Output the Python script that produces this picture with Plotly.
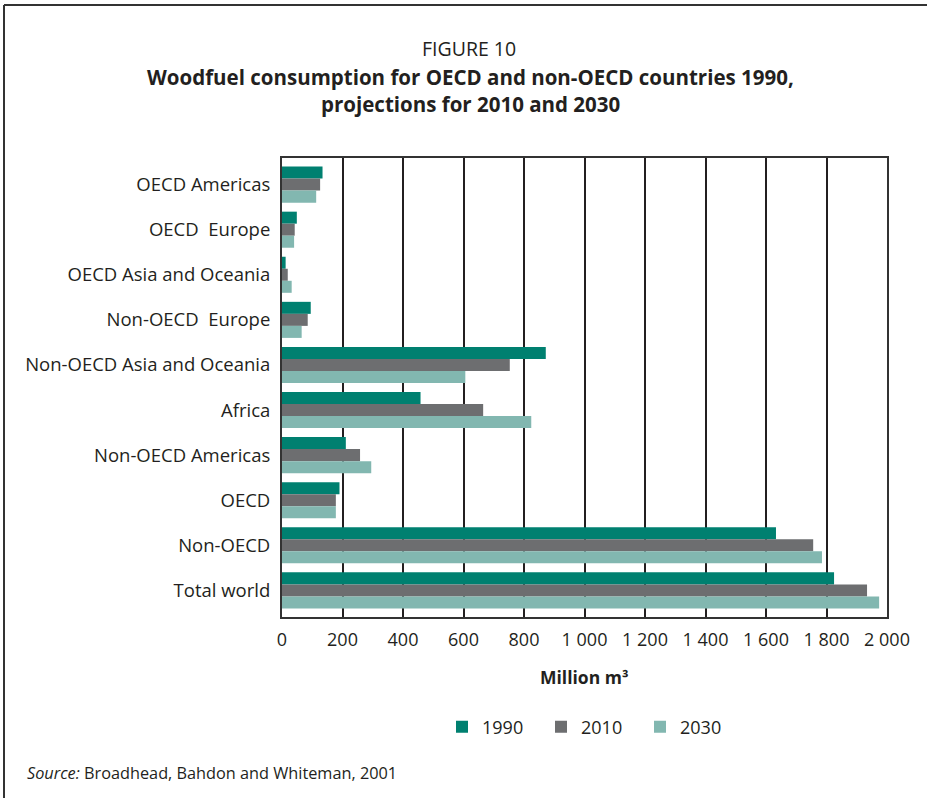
import plotly.graph_objects as go

categories = ["OECD Americas", "OECD\u00a0 Europe", "OECD Asia and Oceania", "Non-OECD\u00a0 Europe",
              "Non-OECD Asia and Oceania", "Africa", "Non-OECD Americas", "OECD", "Non-OECD", "Total world"]
v1990 = [134, 49, 12, 95, 872, 458, 211, 190, 1633, 1825]
v2010 = [126, 42, 19, 85, 753, 665, 258, 178, 1756, 1934]
v2030 = [113, 40, 32, 65, 606, 824, 295, 178, 1785, 1974]
series_names = ["1990", "2010", "2030"]
colors = ["#008070", "#6d6e70", "#82b7b0"]
tick_vals = [0, 200, 400, 600, 800, 1000, 1200, 1400, 1600, 1800, 2000]
tick_text = ["0", "200", "400", "600", "800", "1 000", "1 200", "1 400", "1 600", "1 800", "2 000"]

OFF = 0  # page body margin removed via post_script
W, H = 927, 798
L, T = 282 - OFF, 158 - OFF
R = W - (887 - OFF)
B = H - (617 - OFF)
pw, ph = W - L - R, H - T - B

FONT = "Open Sans, Noto Sans, sans-serif"
TXT = "#231f20"


def px_to_paper_x(px):
    return (px - OFF - L) / pw


def px_to_paper_y(py):
    return 1 - (py - OFF - T) / ph


fig = go.Figure()
for name, vals, c in zip(series_names, [v1990, v2010, v2030], colors):
    fig.add_trace(go.Bar(y=categories, x=vals, name=name, orientation="h",
                         marker=dict(color=c, line=dict(width=0))))

pad = 0.09
fig.update_layout(
    width=W, height=H,
    margin=dict(l=L, r=R, t=T, b=B),
    paper_bgcolor="white", plot_bgcolor="white",
    barmode="group", bargap=0.2, bargroupgap=0,
    font=dict(family=FONT, color=TXT, size=18),
    showlegend=True,
    legend=dict(orientation="h", x=px_to_paper_x(442), xanchor="left",
                y=px_to_paper_y(727), yanchor="middle",
                font=dict(size=18, color=TXT), entrywidth=54, entrywidthmode="pixels",
                traceorder="normal"),
    xaxis=dict(range=[0, 2000], tickvals=tick_vals, ticktext=tick_text,
               showgrid=True, gridcolor="#231f20", gridwidth=2,
               showline=True, linecolor="#333333", linewidth=2, mirror=True,
               zeroline=False, ticks="", ticklabelstandoff=5,
               tickfont=dict(size=18, color=TXT)),
    yaxis=dict(type="category", range=[len(categories) - 0.5 + pad, -0.5 - pad],
               showgrid=False, showline=True, linecolor="#333333", linewidth=2, mirror=True,
               ticks="", ticklabelstandoff=6, tickfont=dict(size=18.5, color=TXT)),
)

annotations = [
    dict(text="FIGURE 10", x=px_to_paper_x(469), y=px_to_paper_y(48), font=dict(size=19.5)),
    dict(text="<b>Woodfuel consumption for OECD and non-OECD countries 1990,</b>",
         x=px_to_paper_x(470), y=px_to_paper_y(77), font=dict(size=20.5)),
    dict(text="<b>projections for 2010 and 2030</b>",
         x=px_to_paper_x(470), y=px_to_paper_y(104), font=dict(size=20.5)),
    dict(text="<b>Million m³</b>", x=px_to_paper_x(584), y=px_to_paper_y(677), font=dict(size=17.5)),
]
for a in annotations:
    a.update(xref="paper", yref="paper", showarrow=False, xanchor="center", yanchor="middle")
    fig.add_annotation(**a)

fig.add_annotation(text="<i>Source:</i> Broadhead, Bahdon and Whiteman, 2001",
                   xref="paper", yref="paper", x=px_to_paper_x(25), y=px_to_paper_y(773),
                   xanchor="left", yanchor="middle", showarrow=False, font=dict(size=16.3))

# outer frame (top and left edges visible in the reference)
fig.add_shape(type="line", xref="paper", yref="paper",
              x0=px_to_paper_x(4), x1=px_to_paper_x(960), y0=px_to_paper_y(5), y1=px_to_paper_y(5),
              line=dict(color="#333333", width=2))
fig.add_shape(type="line", xref="paper", yref="paper",
              x0=px_to_paper_x(4), x1=px_to_paper_x(4), y0=px_to_paper_y(5), y1=px_to_paper_y(820),
              line=dict(color="#333333", width=2))

fig.write_html("out.html", config={"displayModeBar": False},
               post_script="document.body.style.margin='0';document.body.style.overflow='hidden';")
